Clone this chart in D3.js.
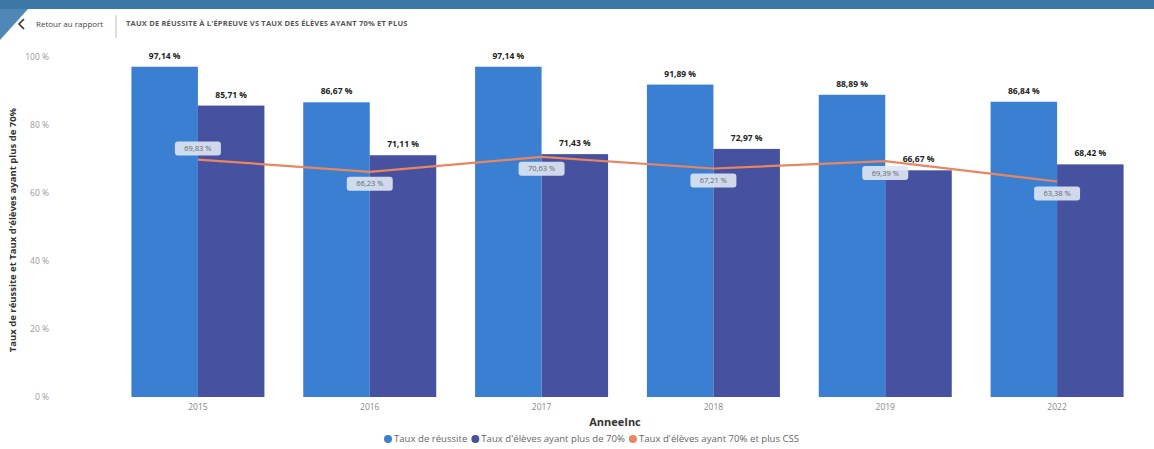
<!DOCTYPE html>
<html><head><meta charset="utf-8">
<script src="https://cdn.jsdelivr.net/npm/d3@7"></script>
<style>
html,body{margin:0;padding:0;background:#fff;}
svg{display:block;font-family:"Open Sans","DejaVu Sans",sans-serif;}
</style></head>
<body>
<svg id="chart" width="1154" height="449"></svg>
<script>
const years = ["2015","2016","2017","2018","2019","2022"];
const tauxReussite = [97.14, 86.67, 97.14, 91.89, 88.89, 86.84];
const tauxPlus70 = [85.71, 71.11, 71.43, 72.97, 66.67, 68.42];
const tauxCSS = [69.83, 66.23, 70.63, 67.21, 69.39, 63.38];
const yTicks = [0, 20, 40, 60, 80, 100];
const seriesNames = ["Taux de réussite", "Taux d'élèves ayant plus de 70%", "Taux d'élèves ayant 70% et plus CSS"];
const colors = ["#3b7fd2", "#46519f", "#e8865f"];

const fmt = v => d3.format(".2f")(v).replace(".", ",") + " %";

const svg = d3.select("#chart");

// frame decorations
svg.append("rect").attr("x",0).attr("y",0).attr("width",1154).attr("height",9).attr("fill","#3c77a6");
svg.append("path").attr("d","M0,9 L28,9 L0,40 Z").attr("fill","#4f88b6");

// header
svg.append("path").attr("d","M24,19 L19,24 L24,29").attr("fill","none").attr("stroke","#333").attr("stroke-width",1.6);
svg.append("text").attr("x",36).attr("y",27).attr("font-size",8).attr("fill","#444").text("Retour au rapport");
svg.append("line").attr("x1",116).attr("x2",116).attr("y1",15).attr("y2",38).attr("stroke","#bbb");
svg.append("text").attr("x",126).attr("y",26).attr("font-size",7.5).attr("font-weight","bold").attr("fill","#555")
  .attr("letter-spacing",0.2).text("TAUX DE RÉUSSITE À L'ÉPREUVE VS TAUX DES ÉLÈVES AYANT 70% ET PLUS");

const x0 = d3.scaleBand().domain(years).range([112, 1143]).paddingInner(0.226).paddingOuter(0.113);
const x1 = d3.scaleBand().domain([0,1]).range([0, x0.bandwidth()]);
const y = d3.scaleLinear().domain([0, 100]).range([397, 57]);

// y axis
const yAxis = d3.axisLeft(y).tickValues(yTicks).tickSize(0).tickFormat(d => d + " %");
const gy = svg.append("g").attr("transform","translate(52,0)").call(yAxis);
gy.select(".domain").remove();
gy.selectAll("text").attr("font-size",8.5).attr("fill","#999").attr("font-family","Open Sans, sans-serif");

svg.append("text").attr("transform","translate(16,230) rotate(-90)").attr("text-anchor","middle")
  .attr("font-size",9.5).attr("font-weight","bold").attr("fill","#333")
  .text("Taux de réussite et Taux d'élèves ayant plus de 70%");

// x axis
const xAxis = d3.axisBottom(x0).tickSize(0);
const gx = svg.append("g").attr("transform","translate(0,401)").call(xAxis);
gx.select(".domain").remove();
gx.selectAll("text").attr("font-size",8.5).attr("fill","#888").attr("font-family","Open Sans, sans-serif");

svg.append("text").attr("x",615).attr("y",426).attr("text-anchor","middle")
  .attr("font-size",11).attr("font-weight","bold").attr("fill","#333").text("AnneeInc");

// bars
const barData = years.map((yr,i) => ({yr, vals:[tauxReussite[i], tauxPlus70[i]]}));
const groups = svg.append("g").selectAll("g").data(barData).join("g")
  .attr("transform", d => `translate(${x0(d.yr)},0)`);
groups.selectAll("rect").data(d => d.vals.map((v,k)=>({v,k}))).join("rect")
  .attr("x", d => x1(d.k)).attr("width", x1.bandwidth())
  .attr("y", d => y(d.v)).attr("height", d => y(0) - y(d.v))
  .attr("fill", d => colors[d.k]);
groups.selectAll("text").data(d => d.vals.map((v,k)=>({v,k}))).join("text")
  .attr("x", d => x1(d.k) + x1.bandwidth()/2).attr("y", d => y(d.v) - 8)
  .attr("text-anchor","middle").attr("font-size",8.5).attr("font-weight","bold").attr("fill","#222")
  .text(d => fmt(d.v));

// line
const cx = yr => x0(yr) + x0.bandwidth()/2;
const line = d3.line().x((d,i) => cx(years[i])).y(d => y(d));
svg.append("path").datum(tauxCSS).attr("d", line).attr("fill","none")
  .attr("stroke", colors[2]).attr("stroke-width", 2.2);

// line labels
const above = [true,false,false,false,false,false];
const ll = svg.append("g").selectAll("g").data(tauxCSS).join("g")
  .attr("transform", (d,i) => `translate(${cx(years[i])},${y(d) + (above[i] ? -11 : 12)})`);
ll.append("rect").attr("x",-23).attr("y",-7).attr("width",46).attr("height",14).attr("rx",3)
  .attr("fill","#dfe7f3").attr("opacity",0.9);
ll.append("text").attr("text-anchor","middle").attr("dy","0.35em").attr("font-size",7.5)
  .attr("fill","#666").text(d => fmt(d));

// legend
const legend = svg.append("g").attr("transform","translate(384,439)");
let lx = 0;
seriesNames.forEach((name,i) => {
  const g = legend.append("g").attr("transform", `translate(${lx},0)`);
  g.append("circle").attr("cx",4).attr("cy",0).attr("r",4).attr("fill",colors[i]);
  const t = g.append("text").attr("x",10).attr("dy","0.35em").attr("font-size",9.6).attr("fill","#666").text(name);
  lx += 10 + t.node().getComputedTextLength() + 4;
});
</script>
</body></html>
